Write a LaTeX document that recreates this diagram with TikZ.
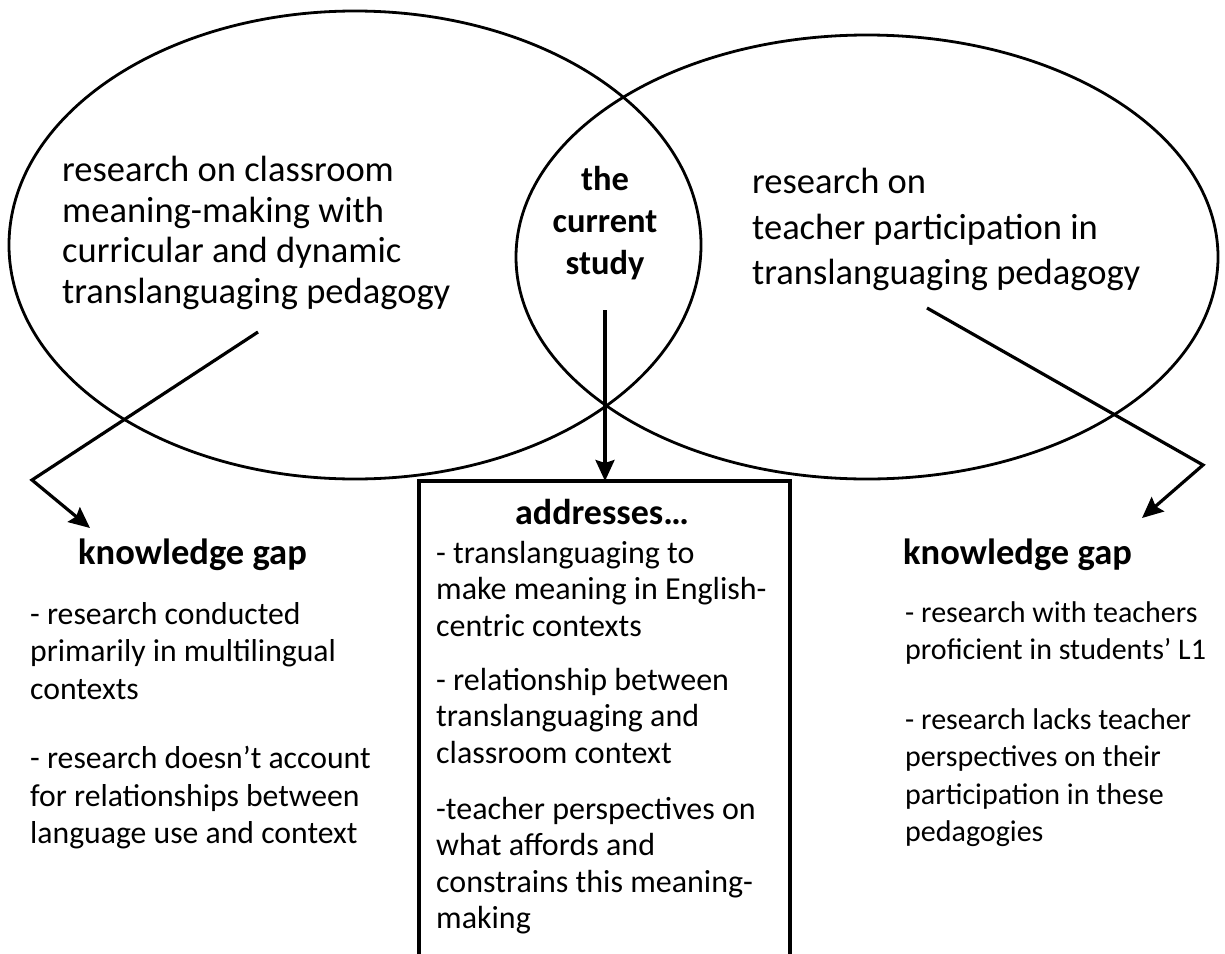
\documentclass[tikz,border=0pt]{standalone}
\usepackage{fontspec}
\setmainfont{Carlito}
\usetikzlibrary{arrows.meta,shapes.geometric}
\begin{document}
\begin{tikzpicture}[x=1pt,y=-1pt,
  ring/.style={draw, ellipse, line width=2.8pt, inner sep=0pt},
  link/.style={line width=3.2pt, line join=miter, -{Stealth[length=21pt,width=19pt,inset=3pt]}},
  frame/.style={line width=3.8pt},
  bigtext/.style={anchor=north west, inner sep=0pt, align=left, font=\fontsize{36.5}{40.5}\selectfont},
  listtext/.style={anchor=north west, inner sep=0pt, align=left, font=\fontsize{31.7}{37.5}\selectfont},
  boxtext/.style={anchor=north west, inner sep=0pt, align=left, font=\fontsize{32}{36.5}\selectfont},
  headtext/.style={anchor=north west, inner sep=0pt, font=\bfseries\fontsize{36.5}{40}\selectfont}]
\useasboundingbox (0,0) rectangle (1225,953);

% two overlapping research areas
\node[ring, minimum width=692pt, minimum height=468pt] (lring) at (355,245) {};
\node[ring, minimum width=702pt, minimum height=444pt] (rring) at (867,257) {};

% open box for what the study addresses
\coordinate (boxtop) at (605,481);
\draw[frame] (419,1000) -- (419,481) -- (790,481) -- (790,1000);

% texts inside the circles
\node[bigtext] (ltxt) at (62,156) {research on classroom\\meaning-making with\\curricular and dynamic\\translanguaging pedagogy};
\node[anchor=north, inner sep=0pt, align=center, font=\bfseries\fontsize{34.5}{42}\selectfont] (study) at (605,166) {the\\current\\study};
\node[bigtext, font=\fontsize{36.5}{45.5}\selectfont] (rtxt) at (752,168) {research on\\teacher participation in\\translanguaging pedagogy};

% headings and lists
\node[headtext] (lgap) at (78,539) {knowledge gap};
\node[headtext] (rgap) at (903,539) {knowledge gap};
\node[anchor=north, inner sep=0pt, font=\bfseries\fontsize{36}{40}\selectfont] (addr) at (602,499) {addresses…};

\node[listtext] (llist) at (30,602) {- research conducted\\primarily in multilingual\\contexts\\[32pt]- research doesn’t account\\for relationships between\\language use and context};
\node[listtext, font=\fontsize{30}{37.3}\selectfont] (rlist) at (905,601) {- research with teachers\\proficient in students’ L1\\[33pt]- research lacks teacher\\perspectives on their\\participation in these\\pedagogies};
\node[boxtext] (blist) at (436,541) {- translanguaging to\\make meaning in English-\\centric contexts\\[17.5pt]- relationship between\\translanguaging and\\classroom context\\[19.5pt]-teacher perspectives on\\what affords and\\constrains this meaning-\\making};

% connectors
\coordinate (lstart) at (258,332);
\coordinate (lbend) at (32,480);
\coordinate (ltip) at (90,528);
\draw[link] (lstart) -- (lbend) -- (ltip);
\coordinate (cstart) at (605,310);
\draw[link] (cstart) -- (boxtop);
\coordinate (rstart) at (927,308);
\coordinate (rbend) at (1203,465);
\coordinate (rtip) at (1142,518);
\draw[link] (rstart) -- (rbend) -- (rtip);
\end{tikzpicture}
\end{document}
